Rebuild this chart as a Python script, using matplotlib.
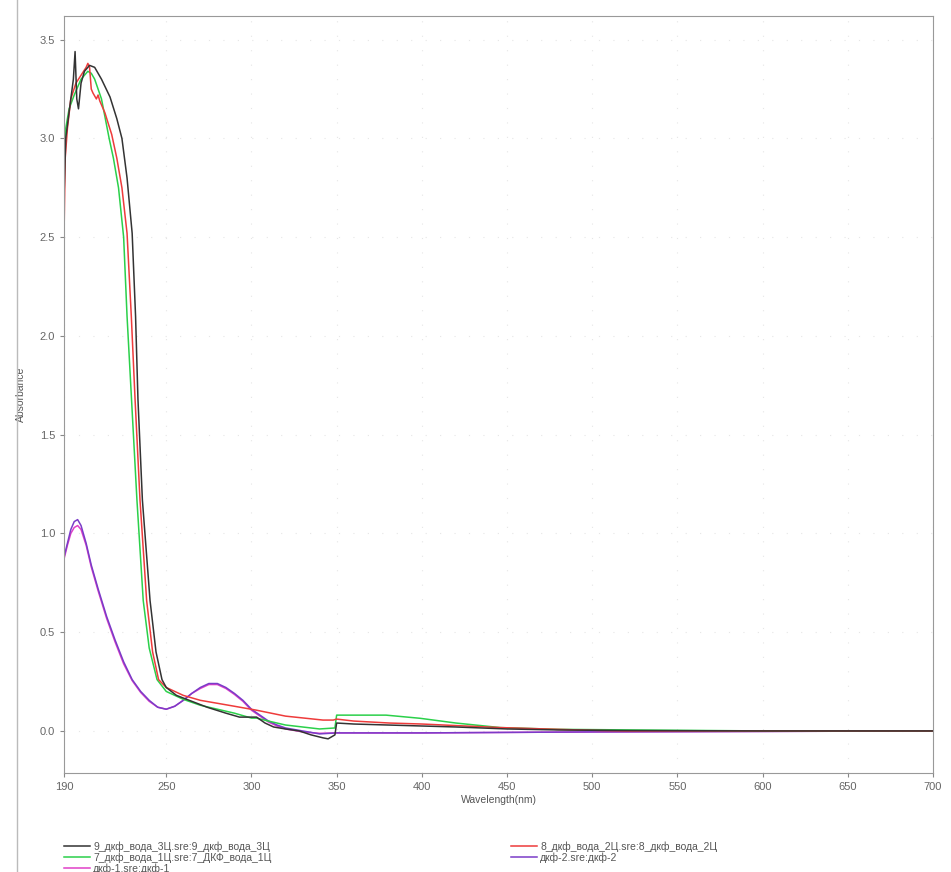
import matplotlib
matplotlib.use("Agg")
import matplotlib.pyplot as plt
from matplotlib.lines import Line2D

plt.rcParams['font.family'] = ['Liberation Sans', 'DejaVu Sans']

# --- data (wavelength nm, absorbance) ---
wl_9 = [190, 191, 192.5, 194, 195.5, 196.5, 197.5, 198.5, 200, 202, 205, 208, 212, 217, 221,
        224, 227, 230, 232, 233.4, 236, 240.5, 244, 247.5, 250, 256, 265, 274, 285, 293, 303,
        308, 313, 320, 328, 335, 342, 345, 349, 350, 360, 380, 400, 420, 450, 480, 520, 600, 700]
abs_9 = [2.7, 3.0, 3.1, 3.2, 3.3, 3.44, 3.2, 3.15, 3.28, 3.34, 3.37, 3.36, 3.3, 3.21, 3.1,
         3.0, 2.8, 2.52, 2.1, 1.68, 1.17, 0.66, 0.4, 0.26, 0.22, 0.18, 0.15, 0.12, 0.09, 0.07, 0.07,
         0.04, 0.02, 0.01, 0.0, -0.02, -0.035, -0.04, -0.02, 0.04, 0.035, 0.03, 0.025, 0.02, 0.01,
         0.005, 0.002, 0.0, 0.0]

wl_7 = [190, 191, 193, 196, 200, 204, 206, 208, 212, 216.5, 219, 222, 225, 227, 229.5, 232.8,
        236.5, 240, 244.6, 250, 260, 270, 280, 290, 298, 300, 303, 310, 320, 330, 340, 349, 350,
        379, 399, 420, 446, 480, 524, 600, 700]
abs_7 = [2.8, 3.05, 3.15, 3.22, 3.3, 3.34, 3.33, 3.3, 3.2, 3.0, 2.9, 2.75, 2.5, 2.1, 1.7, 1.17,
         0.66, 0.42, 0.26, 0.2, 0.16, 0.13, 0.11, 0.09, 0.07, 0.065, 0.065, 0.05, 0.03, 0.02, 0.01,
         0.015, 0.08, 0.08, 0.064, 0.04, 0.017, 0.008, 0.005, 0.0, 0.0]

wl_8 = [190, 190.7, 192, 194, 197, 200, 203, 204, 205, 206, 207, 209, 210, 211, 214, 218, 221,
        224, 227, 229.5, 231.7, 234.6, 238.5, 242, 245.5, 250, 260, 270, 280, 290, 303, 320, 342,
        348, 350, 360, 381, 400, 446, 480, 505, 520, 700]
abs_8 = [2.5, 2.9, 3.05, 3.2, 3.28, 3.32, 3.36, 3.38, 3.36, 3.25, 3.23, 3.2, 3.22, 3.19, 3.13,
         3.02, 2.9, 2.75, 2.52, 2.1, 1.68, 1.17, 0.66, 0.4, 0.26, 0.22, 0.18, 0.155, 0.14, 0.125,
         0.105, 0.075, 0.055, 0.055, 0.06, 0.05, 0.04, 0.035, 0.017, 0.008, 0.002, 0.0, 0.0]

wl_d2 = [190, 192, 194, 196, 198, 200, 203, 206, 210, 215, 220, 225, 230, 235, 240, 245, 250,
         255, 260, 265, 270, 275, 280, 285, 290, 295, 300, 305, 310, 315, 320, 330, 340, 350,
         400, 500, 700]
abs_d2 = [0.88, 0.95, 1.02, 1.06, 1.07, 1.04, 0.95, 0.84, 0.72, 0.58, 0.46, 0.35, 0.26, 0.2,
          0.155, 0.12, 0.11, 0.125, 0.155, 0.19, 0.22, 0.24, 0.24, 0.22, 0.19, 0.155, 0.11, 0.08,
          0.05, 0.03, 0.015, 0.0, -0.015, -0.01, -0.01, -0.005, 0.0]

wl_d1 = [190, 192, 194, 196, 198, 200, 203, 206, 210, 215, 220, 225, 230, 235, 240, 245, 250,
         255, 260, 265, 270, 275, 280, 285, 290, 295, 300, 305, 310, 315, 320, 330, 340, 350,
         400, 500, 700]
abs_d1 = [0.87, 0.94, 1.0, 1.03, 1.04, 1.02, 0.94, 0.83, 0.71, 0.57, 0.45, 0.34, 0.255, 0.195,
          0.15, 0.12, 0.11, 0.125, 0.155, 0.19, 0.215, 0.235, 0.235, 0.215, 0.185, 0.15, 0.105,
          0.075, 0.045, 0.025, 0.01, -0.005, -0.012, -0.01, -0.01, -0.005, 0.0]

x_ticks = [190, 250, 300, 350, 400, 450, 500, 550, 600, 650, 700]
y_ticks = [0.0, 0.5, 1.0, 1.5, 2.0, 2.5, 3.0, 3.5]

series = [
    (wl_9, abs_9, '#333333', '9_дкф_вода_3Ц.sre:9_дкф_вода_3Ц'),
    (wl_7, abs_7, '#2bd04a', '7_дкф_вода_1Ц.sre:7_ДКФ_вода_1Ц'),
    (wl_d1, abs_d1, '#e040c8', 'дкф-1.sre:дкф-1'),
    (wl_8, abs_8, '#ee3b3b', '8_дкф_вода_2Ц.sre:8_дкф_вода_2Ц'),
    (wl_d2, abs_d2, '#7a3cc8', 'дкф-2.sre:дкф-2'),
]

fig = plt.figure(figsize=(9.51, 8.72), dpi=100)
ax = fig.add_axes([64 / 951, 1 - 773 / 872, (933 - 64) / 951, (773 - 16) / 872])

# draw order: pink under purple, black on top
for idx in [2, 4, 1, 3, 0]:
    x, y, c, lab = series[idx]
    ax.plot(x, y, color=c, lw=1.1)

ax.set_xlim(190, 700)
ax.set_ylim(-0.213, 3.62)
ax.set_xticks(x_ticks)
ax.set_xticklabels([str(t) for t in x_ticks])
ax.set_yticks(y_ticks)
ax.set_yticklabels([f'{t:.1f}' for t in y_ticks])
ax.tick_params(colors='#888888', labelsize=8, length=3, labelcolor='#666666')
ax.grid(color='#e6e6e6', linestyle=(0, (1, 12)), lw=0.8)
for sp in ax.spines.values():
    sp.set_color('#999999')
    sp.set_linewidth(0.8)

ax.set_xlabel('Wavelength(nm)', fontsize=7.5, color='#555555', labelpad=2)
ax.set_ylabel('Absorbance', fontsize=7.5, color='#555555')
ax.yaxis.set_label_coords((26 - 64) / 869, 0.5)

# window border line on the left
fig.add_artist(Line2D([17 / 951, 17 / 951], [0, 1], color='#bbbbbb', lw=1.0))

handles = [Line2D([], [], color=c, lw=1.1) for _, _, c, _ in series]
labels = [lab for _, _, _, lab in series]
fig.legend(handles, labels, ncol=2, loc='upper left', bbox_to_anchor=(64 / 951, 1 - 841 / 872),
           frameon=False, fontsize=7.5, handlelength=2.5, handletextpad=0.3,
           labelspacing=0.05, columnspacing=23, borderaxespad=0, borderpad=0,
           labelcolor='#555555')

fig.savefig('out.png', dpi=100)
